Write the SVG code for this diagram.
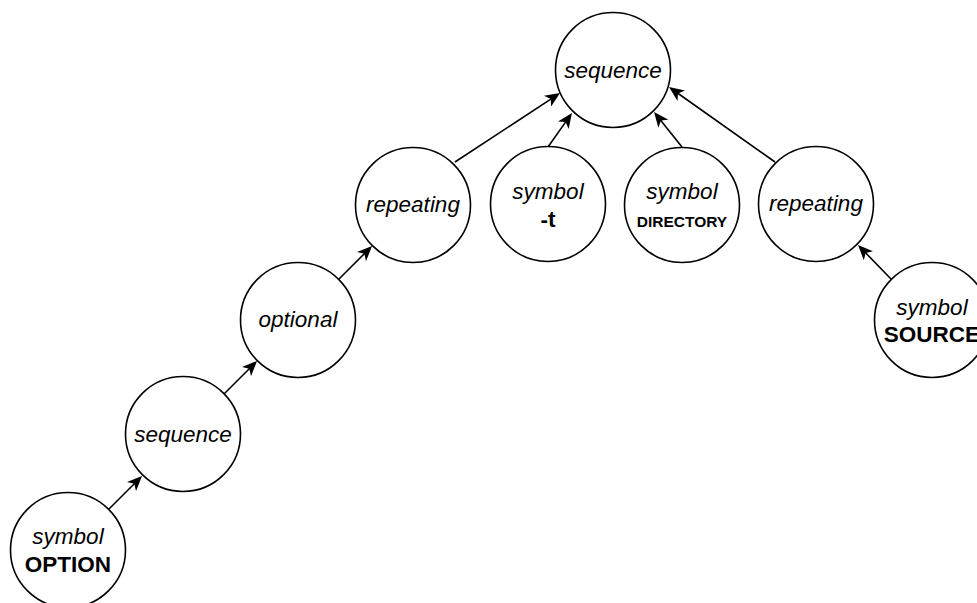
<svg xmlns="http://www.w3.org/2000/svg" width="977" height="603" viewBox="0 0 977 603">
  <style>
    .n { fill: #ffffff; stroke: #000000; stroke-width: 1.6; }
    .t { font-family: "Liberation Sans", Arial, Helvetica, sans-serif; font-size: 22.5px; fill: #000000; text-anchor: middle; }
    .i { font-style: italic; }
    .b { font-weight: bold; }
    .s { font-size: 15.5px; }
    .e { stroke: #000000; stroke-width: 1.6; fill: none; marker-end: url(#arr); }
  </style>
  <defs>
    <marker id="arr" viewBox="0 0 15 13" refX="9" refY="6.5" markerWidth="15" markerHeight="13" markerUnits="userSpaceOnUse" orient="auto">
      <path d="M0,0 L15,6.5 L0,13 L4,6.5 Z" fill="#000000"/>
    </marker>
  </defs>
  <rect width="977" height="603" fill="#ffffff"/>
  <g id="connectors">
    <line class="e" x1="109" y1="509" x2="137.8" y2="480.2"/>
    <line class="e" x1="224" y1="394" x2="252.8" y2="365.2"/>
    <line class="e" x1="339" y1="279" x2="367.8" y2="250.2"/>
    <line class="e" x1="455" y1="162" x2="555" y2="96.3"/>
    <line class="e" x1="548" y1="147" x2="568.5" y2="117.9"/>
    <line class="e" x1="682" y1="147" x2="657.8" y2="116.7"/>
    <line class="e" x1="775" y1="162" x2="673.9" y2="90.5"/>
    <line class="e" x1="891" y1="279" x2="862.2" y2="249.3"/>
  </g>
  <g id="top-sequence">
    <circle class="n" cx="613" cy="70" r="57.5"/>
    <text class="t i" x="613" y="78">sequence</text>
  </g>
  <g id="repeating-left">
    <circle class="n" cx="413" cy="205" r="57.5"/>
    <text class="t i" x="413" y="212">repeating</text>
  </g>
  <g id="symbol-t">
    <circle class="n" cx="548" cy="204" r="57.5"/>
    <text class="t i" x="548" y="199">symbol</text>
    <text class="t b" x="548" y="227">-t</text>
  </g>
  <g id="symbol-directory">
    <circle class="n" cx="682" cy="205" r="57.5"/>
    <text class="t i" x="682" y="199">symbol</text>
    <text class="t b s" x="682" y="227">DIRECTORY</text>
  </g>
  <g id="repeating-right">
    <circle class="n" cx="816" cy="204" r="57.5"/>
    <text class="t i" x="816" y="211">repeating</text>
  </g>
  <g id="symbol-source">
    <circle class="n" cx="932" cy="320" r="57.5"/>
    <text class="t i" x="932" y="315">symbol</text>
    <text class="t b" x="932" y="342">SOURCE</text>
  </g>
  <g id="optional">
    <circle class="n" cx="298" cy="320" r="57.5"/>
    <text class="t i" x="298" y="327">optional</text>
  </g>
  <g id="sequence-lower">
    <circle class="n" cx="183" cy="434" r="57.5"/>
    <text class="t i" x="183" y="442">sequence</text>
  </g>
  <g id="symbol-option">
    <circle class="n" cx="68" cy="550" r="57.5"/>
    <text class="t i" x="68" y="544">symbol</text>
    <text class="t b" x="68" y="572">OPTION</text>
  </g>
</svg>
